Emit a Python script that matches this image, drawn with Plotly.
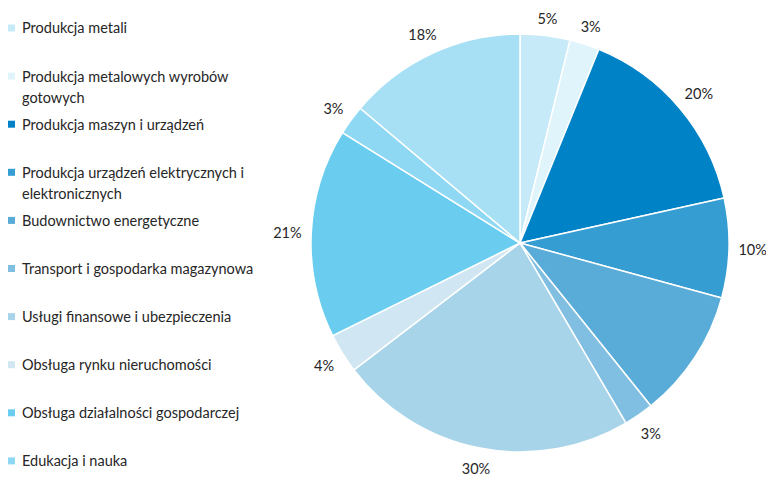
import math
import plotly.graph_objects as go

sectors = ["Produkcja metali",
           "Produkcja metalowych wyrobów<br>gotowych",
           "Produkcja maszyn i urządzeń",
           "Produkcja urządzeń elektrycznych i<br>elektronicznych",
           "Budownictwo energetyczne",
           "Transport i gospodarka magazynowa",
           "Usługi finansowe i ubezpieczenia",
           "Obsługa rynku nieruchomości",
           "Obsługa działalności gospodarczej",
           "Edukacja i nauka",
           "Pozostałe"]
shares = [5, 3, 20, 10, 13, 3, 30, 4, 21, 3, 18]
share_labels = ["5%", "3%", "20%", "10%", "13%", "3%", "30%", "4%", "21%", "3%", "18%"]
colors = ["#c6eaf8", "#e0f4fb", "#0083c6", "#359dd2", "#5aacd8", "#80bfe2",
          "#a8d4ea", "#d0e7f3", "#6acdf0", "#8ed8f3", "#a7e0f4"]

# the page body has an 8px margin, so the figure is a bit smaller than the window
W, H = 766, 470
cx, cy, R = 512, 235, 209
font = "Lato, 'Open Sans', sans-serif"
txt = "#262626"

fig = go.Figure(go.Pie(
    labels=[s.replace("<br>", " ") for s in sectors],
    values=shares,
    textinfo="none",
    sort=False,
    direction="clockwise",
    marker=dict(colors=colors, line=dict(color="white", width=1.5)),
    domain=dict(x=[(cx - R) / W, (cx + R) / W],
                y=[1 - (cy + R) / H, 1 - (cy - R) / H]),
    showlegend=False,
))

# percentage labels sit just outside the pie, at each slice middle;
# the label box keeps a fixed gap from the rim (like office charts do)
total = sum(shares)
mid_angles = []
radii = []
acc = 0
for v, lab in zip(shares, share_labels):
    a = (acc + v / 2) / total * 360
    acc += v
    s, c = math.sin(math.radians(a)), math.cos(math.radians(a))
    ext = 4.35 * len(lab) * abs(s) + 7 * abs(c)
    rv = R + 10.5 + ext
    # text anchor sits a few px below the visual middle of the digits
    x, y = rv * s, rv * c - 3
    radii.append(math.hypot(x, y))
    mid_angles.append(math.degrees(math.atan2(x, y)))

fig.add_trace(go.Scatterpolar(
    r=radii, theta=mid_angles, mode="text", text=share_labels,
    textfont=dict(size=14.5, color=txt, family=font),
    cliponaxis=False, hoverinfo="skip", showlegend=False,
))
fig.update_polars(
    domain=dict(x=[(cx - 235) / W, (cx + 235) / W], y=[0, 1]),
    bgcolor="rgba(0,0,0,0)",
    radialaxis=dict(range=[0, 235], visible=False),
    angularaxis=dict(rotation=90, direction="clockwise", visible=False),
)

# hand made legend, only the first ten sectors are listed
shapes = []
annotations = []
for i, name in enumerate(sectors[:10]):
    yc = 20 + 48.1 * i
    shapes.append(dict(type="rect", xref="paper", yref="paper",
                       x0=0 / W, x1=7 / W,
                       y0=1 - (yc + 3.5) / H, y1=1 - (yc - 3.5) / H,
                       fillcolor=colors[i], line=dict(width=0)))
    for k, line in enumerate(name.split("<br>")):
        annotations.append(dict(xref="paper", yref="paper", x=12 / W,
                                y=1 - (yc + 21 * k) / H,
                                xanchor="left", yanchor="middle",
                                text=line, showarrow=False,
                                font=dict(size=14.5, color=txt, family=font)))

fig.update_layout(width=W, height=H, margin=dict(l=0, r=0, t=0, b=0),
                  paper_bgcolor="white", plot_bgcolor="white",
                  shapes=shapes, annotations=annotations)
fig.write_html("out.html")
